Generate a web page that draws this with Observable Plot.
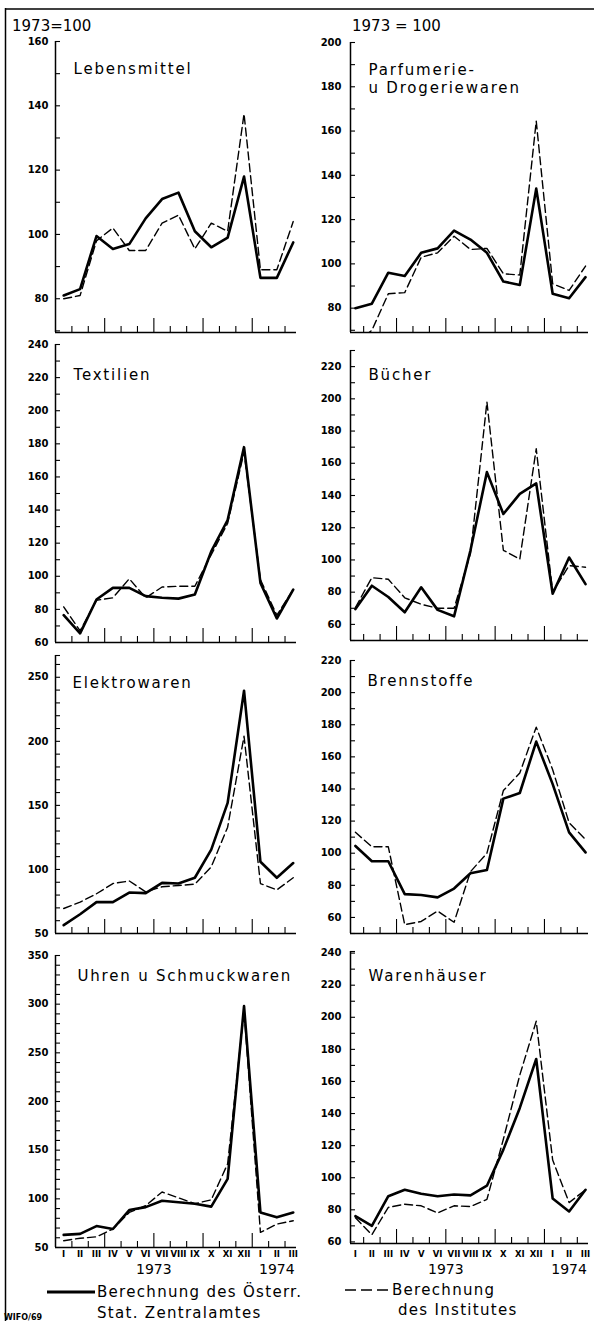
<!DOCTYPE html>
<html><head><meta charset="utf-8">
<script src="https://cdn.jsdelivr.net/npm/d3@7"></script>
<script src="https://cdn.jsdelivr.net/npm/@observablehq/plot@0.6"></script>
<style>
body{margin:0;background:#fff;}
#wrap{position:relative;width:594px;height:1321px;overflow:hidden;background:#fff;font-family:"DejaVu Sans",sans-serif;color:#000;}
.panel{position:absolute;}
.panel svg{display:block;}
#wrap g[aria-label="text"][font-size="15"] text{letter-spacing:1.8px;}
#overlay{position:absolute;left:0;top:0;}
</style></head><body><div id="wrap"></div>
<script>
// ---- data ----
const months = ["I","II","III","IV","V","VI","VII","VIII","IX","X","XI","XII","I","II","III"];
const years = ["1973","1974"];
const yearPos = [5.5, 13];

const lebensmittelStat = [81, 83, 99.5, 95.5, 97, 105, 111, 113, 101, 96, 99, 118, 86.5, 86.5, 97.5];
const lebensmittelInst = [80, 81, 98, 102, 95, 95, 103.5, 106, 95.5, 103.5, 101, 137.5, 89, 89, 104];
const parfumerieStat = [80, 82, 96, 94.5, 105, 107, 115, 111, 105, 92, 90.5, 134, 86.5, 84.5, 94];
const parfumerieInst = [64, 70, 86.5, 87, 103, 105, 112.5, 106.5, 107, 95.5, 95, 164.5, 91, 88, 99];
const textilienStat = [76.5, 65.5, 86, 93, 93, 88, 87, 86.5, 89, 115, 134, 178, 96, 74.5, 92];
const textilienInst = [81.5, 67, 85.5, 87, 98.5, 87, 93.5, 94, 94, 113, 132, 175, 98, 76.5, 92];
const buecherStat = [69.5, 84, 77, 67.5, 83, 69, 65, 106, 154.5, 128.5, 141, 147.5, 79, 101.5, 85];
const buecherInst = [70.5, 89, 88, 76.5, 72.5, 70, 70, 104, 198, 106, 100.5, 169, 80, 96.5, 95.5];
const elektroStat = [56.5, 65, 74.5, 74.5, 82, 81.5, 89.5, 89, 93.5, 115.5, 152, 239.5, 106, 93.5, 105];
const elektroInst = [69.5, 74.5, 81, 89, 91, 82.5, 86.5, 87.5, 88.5, 102, 133, 204, 89, 84, 93.5];
const brennStat = [104.5, 95, 95, 74.5, 74, 72.5, 78, 87.5, 89.5, 134, 137.5, 169.5, 143, 113, 100.5];
const brennInst = [113, 104, 104, 55.5, 57.5, 64, 57, 88.5, 100, 139, 150, 178.5, 152, 119, 108.5];
const uhrenStat = [63, 64, 72, 69, 88.5, 91.5, 98, 96.5, 95, 92, 120.5, 298, 86, 81, 86];
const uhrenInst = [57, 59.5, 61, 69, 86, 93, 107, 101, 95, 99, 136, 293, 65.5, 74, 77.5];
const warenStat = [76, 70, 88.5, 92.5, 90, 88.5, 89.5, 89, 95, 117.5, 143.5, 174, 87, 79, 92.5];
const warenInst = [75, 64.5, 81.5, 83.5, 82.5, 78, 82.5, 82, 86.5, 124, 164, 197.5, 111, 84.5, 92.5];

const titles = ["Lebensmittel", "Parfumerie-\nu Drogeriewaren", "Textilien", "Bücher",
  "Elektrowaren", "Brennstoffe", "Uhren u Schmuckwaren", "Warenhäuser"];
const yDomains = [[69.5,160],[69,200],[60,240],[50,230],[50,267],[50,220],[50,350],[59,241]];
const yLabelSteps = [20,20,20,20,50,20,50,20];
const yLabelStarts = [80,80,60,60,50,60,50,60];

// ---- layout ----
const colGeom = [
  {left:0, width:300, mL:55, mR:4, xDomain:[-0.5,14.2], pad:7, monthPad:3, yearDy:26},
  {left:295, width:299, mL:55, mR:6, xDomain:[-0.3,14.18], pad:9, monthPad:7, yearDy:30}
];
const layout = [
  {col:0, top:41, bottom:332, tdx:18, tdy:20},
  {col:1, top:42, bottom:332, tdx:18, tdy:20},
  {col:0, top:344, bottom:642, tdx:18, tdy:23},
  {col:1, top:350, bottom:640, tdx:18, tdy:17},
  {col:0, top:655, bottom:933, tdx:17, tdy:20},
  {col:1, top:660, bottom:933, tdx:17, tdy:13},
  {col:0, top:955, bottom:1247, tdx:22, tdy:13, last:true},
  {col:1, top:951, bottom:1243, tdx:18, tdy:17, last:true}
];
const seriesStat = [lebensmittelStat, parfumerieStat, textilienStat, buecherStat, elektroStat, brennStat, uhrenStat, warenStat];
const seriesInst = [lebensmittelInst, parfumerieInst, textilienInst, buecherInst, elektroInst, brennInst, uhrenInst, warenInst];

const wrap = document.getElementById("wrap");
const xSmall = [0.5,1.5,3.5,4.5,6.5,7.5,9.5,10.5,12.5,13.5];
const xBig = [2.5,5.5,8.5,11.5];
const mT = 12;

layout.forEach((L, k) => {
  const g = colGeom[L.col];
  const dom = yDomains[k];
  const mB = L.last ? 45 : 3;
  const frameH = L.bottom - L.top;
  const frameW = g.width - g.mL - g.mR;
  const H = mT + frameH + mB;
  const labels = d3.range(yLabelStarts[k], dom[1] + 0.001, yLabelSteps[k]);
  const minor = Array.from(new Set([...d3.range(Math.ceil(dom[0]/10)*10, dom[1] + 0.001, 10), dom[1]]));
  const data = months.map((m, i) => ({i, s: seriesStat[k][i], d: seriesInst[k][i]}));
  const marks = [
    Plot.ruleX([g.xDomain[0]], {stroke:"black", strokeWidth:1.5}),
    Plot.ruleY([dom[0]], {stroke:"black", strokeWidth:1.5}),
    Plot.tickY(minor, {y: d => d, insetRight: frameW - 5, stroke:"black", strokeWidth:1.1}),
    Plot.tickX(xSmall, {x: d => d, insetTop: frameH - 6, stroke:"black", strokeWidth:1.1}),
    Plot.tickX(xBig, {x: d => d, insetTop: frameH - 14, stroke:"black", strokeWidth:1.1}),
    Plot.axisY({ticks: labels, anchor:"left", tickSize:0, tickPadding:g.pad, fontSize:10, fontWeight:"bold", tickFormat: d => d, label: null}),
    Plot.line(data, {x:"i", y:"d", stroke:"black", strokeWidth:1.4, strokeDasharray:"8,4", clip:true}),
    Plot.line(data, {x:"i", y:"s", stroke:"black", strokeWidth:2.6, clip:true}),
    Plot.text([titles[k]], {frameAnchor:"top-left", dx:L.tdx, dy:L.tdy, text:d => d, textAnchor:"start", lineAnchor:"top", fontSize:15, lineHeight:1.2, fill:"black"})
  ];
  if (L.last) {
    marks.push(Plot.axisX({ticks: d3.range(15), anchor:"bottom", tickSize:0, tickPadding:g.monthPad, fontSize:8.5, fontWeight:"bold", tickFormat: i => months[i], label: null}));
    marks.push(Plot.text(years, {x: (d, j) => yearPos[j], text: d => d, frameAnchor:"bottom", dy:g.yearDy, fontSize:14, fill:"black"}));
  }
  const svg = Plot.plot({
    width: g.width, height: H,
    marginTop: mT, marginBottom: mB, marginLeft: g.mL, marginRight: g.mR,
    x: {domain: g.xDomain, axis: null, label: null},
    y: {domain: dom, axis: null, label: null},
    style: {background:"transparent", fontFamily:"'DejaVu Sans', sans-serif", color:"black", overflow:"visible"},
    marks
  });
  const div = document.createElement("div");
  div.className = "panel";
  div.style.left = g.left + "px";
  div.style.top = (L.top - mT) + "px";
  div.style.width = g.width + "px";
  div.appendChild(svg);
  wrap.appendChild(div);
});

// ---- overlay: headers, border, legend ----
const ov = d3.select(wrap).append("svg").attr("id","overlay").attr("width",594).attr("height",1321)
  .style("pointer-events","none").style("font-family","'DejaVu Sans', sans-serif");
ov.append("line").attr("x1",5.5).attr("x2",5.5).attr("y1",8).attr("y2",1321).attr("stroke","black").attr("stroke-width",1.5);
ov.append("line").attr("x1",5).attr("x2",594).attr("y1",9).attr("y2",9).attr("stroke","black").attr("stroke-width",1.3);
ov.append("text").attr("x",12).attr("y",31).attr("font-size",15).text("1973=100");
ov.append("text").attr("x",352).attr("y",31).attr("font-size",15).text("1973 = 100");
ov.append("line").attr("x1",47).attr("x2",95).attr("y1",1292).attr("y2",1292).attr("stroke","black").attr("stroke-width",3);
ov.append("line").attr("x1",345).attr("x2",390).attr("y1",1290).attr("y2",1290).attr("stroke","black").attr("stroke-width",1.5).attr("stroke-dasharray","11,5");
const leg = [[97,1297,"Berechnung des Österr."],[97,1318,"Stat. Zentralamtes"],[392,1295,"Berechnung"],[398,1315,"des Institutes"]];
leg.forEach(([x,y,t]) => ov.append("text").attr("x",x).attr("y",y).attr("font-size",15).attr("letter-spacing","1.3px").text(t));
ov.append("text").attr("x",4).attr("y",1320).attr("font-size",8).attr("font-weight","bold").text("WIFO/69");
</script></body></html>
